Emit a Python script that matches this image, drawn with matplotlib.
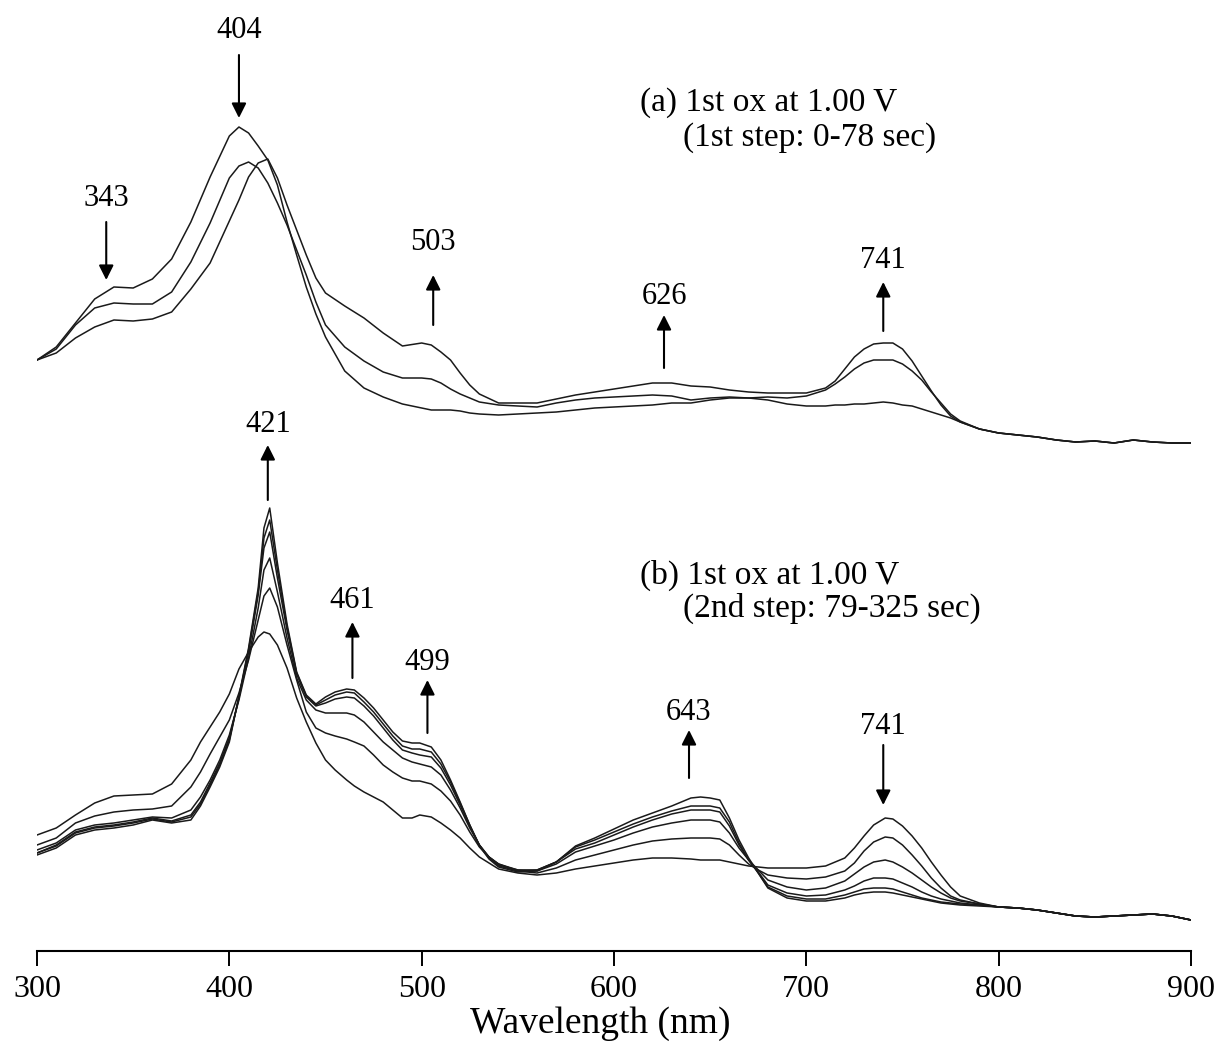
import numpy as np
import matplotlib
matplotlib.use("Agg")
import matplotlib.pyplot as plt

# ---------------------------------------------------------------------------
# (a) 1st oxidation at 1.00 V, 1st step (0-78 s): absorbance in mAU,
#     relative to the 900 nm baseline
# ---------------------------------------------------------------------------
wl_a = [300, 310, 320, 330, 340, 350, 360, 370, 380, 390,
        400, 405, 410, 415, 420, 425, 430, 435, 440, 445,
        450, 460, 470, 480, 490, 500, 505, 510, 515, 520,
        525, 530, 540, 550, 560, 570, 580, 590, 600, 610,
        620, 630, 640, 650, 660, 670, 680, 690, 700, 710,
        715, 720, 725, 730, 735, 740, 745, 750, 755, 760,
        765, 770, 775, 780, 790, 800, 810, 820, 830, 840,
        850, 860, 870, 880, 890, 900]

spec_a1 = [83, 96, 120, 144, 156, 155, 164, 184, 221, 266,
           307, 316, 310, 297, 283, 258, 221, 188, 156, 129,
           106, 72, 55, 46, 39, 35, 33, 33, 33, 32,
           30, 29, 28, 29, 30, 31, 33, 35, 36, 37,
           38, 40, 40, 43, 45, 45, 43, 39, 37, 37,
           38, 38, 39, 39, 40, 41, 40, 38, 37, 34,
           31, 28, 25, 21, 14, 10, 8, 6, 3, 1,
           2, 0, 3, 1, 0, 0]

spec_a2 = [83, 94, 118, 135, 140, 139, 139, 151, 181, 220,
           265, 277, 281, 275, 260, 240, 218, 193, 168, 141,
           118, 96, 82, 71, 65, 65, 64, 60, 54, 49,
           45, 41, 38, 37, 36, 40, 43, 45, 46, 47,
           48, 47, 43, 45, 46, 45, 46, 45, 47, 53,
           59, 66, 74, 80, 83, 83, 83, 79, 72, 63,
           51, 40, 29, 22, 14, 10, 8, 6, 3, 1,
           2, 0, 3, 1, 0, 0]

spec_a3 = [83, 90, 105, 116, 123, 122, 124, 131, 154, 180,
           222, 243, 266, 280, 284, 265, 238, 213, 188, 165,
           150, 137, 125, 110, 97, 100, 98, 91, 83, 70,
           58, 49, 40, 40, 40, 44, 48, 51, 54, 57,
           60, 60, 57, 56, 53, 51, 50, 50, 50, 55,
           62, 74, 86, 94, 99, 100, 100, 94, 82, 67,
           52, 38, 27, 21, 14, 10, 8, 6, 3, 1,
           2, 0, 3, 1, 0, 0]

# ---------------------------------------------------------------------------
# (b) 1st oxidation at 1.00 V, 2nd step (79-325 s): absorbance in mAU
# ---------------------------------------------------------------------------
wl_b = [300, 310, 320, 330, 340, 350, 360, 370, 380, 385,
        390, 395, 400, 405, 410, 415, 418, 421, 425, 430,
        435, 440, 445, 450, 455, 461, 465, 470, 475, 480,
        485, 490, 495, 499, 505, 510, 515, 520, 525, 530,
        535, 540, 550, 560, 570, 580, 590, 600, 610, 620,
        630, 640, 645, 650, 655, 660, 665, 670, 675, 680,
        690, 700, 710, 720, 725, 730, 735, 741, 745, 750,
        755, 760, 765, 770, 775, 780, 790, 800, 810, 820,
        830, 840, 850, 860, 870, 880, 890, 900]

spec_b1 = [85, 92, 105, 117, 124, 125, 126, 136, 160, 178,
           193, 208, 226, 251, 268, 283, 288, 286, 275, 252,
           222, 198, 177, 160, 150, 140, 134, 128, 123, 118,
           110, 102, 102, 105, 103, 97, 90, 82, 72, 63,
           57, 51, 47, 45, 47, 51, 54, 57, 60, 62,
           62, 61, 60, 60, 60, 58, 56, 54, 53, 52,
           52, 52, 54, 62, 72, 84, 95, 102, 101, 94,
           84, 72, 58, 45, 33, 24, 17, 13, 12, 10,
           7, 4, 3, 4, 5, 6, 4, 0]

spec_b2 = [75, 82, 97, 104, 108, 110, 111, 114, 133, 148,
           166, 183, 200, 227, 260, 300, 324, 332, 313, 275,
           240, 208, 192, 187, 184, 181, 178, 174, 165, 155,
           148, 142, 139, 139, 136, 129, 119, 105, 88, 73,
           63, 56, 49, 47, 52, 60, 65, 70, 75, 79,
           81, 82, 82, 82, 81, 75, 65, 56, 50, 45,
           42, 41, 43, 49, 57, 69, 78, 83, 82, 75,
           65, 54, 42, 32, 24, 20, 16, 13, 12, 10,
           7, 4, 3, 4, 5, 6, 4, 0]

spec_b3 = [70, 77, 90, 95, 97, 100, 103, 102, 110, 123,
           140, 160, 185, 220, 262, 312, 350, 362, 328, 282,
           242, 220, 210, 207, 207, 207, 205, 198, 188, 178,
           170, 162, 158, 156, 153, 145, 130, 112, 92, 75,
           63, 56, 50, 49, 56, 68, 74, 80, 87, 93,
           97, 100, 100, 100, 98, 87, 72, 60, 50, 40,
           33, 30, 32, 39, 46, 53, 58, 60, 58, 53,
           47, 40, 33, 27, 22, 19, 16, 13, 12, 10,
           7, 4, 3, 4, 5, 6, 4, 0]

spec_b4 = [67, 75, 88, 93, 95, 98, 102, 99, 105, 118,
           137, 157, 182, 222, 268, 325, 372, 388, 342, 290,
           246, 223, 214, 217, 221, 223, 222, 214, 204, 192,
           180, 170, 167, 165, 163, 152, 135, 115, 94, 75,
           63, 55, 50, 50, 58, 71, 77, 85, 93, 100,
           106, 110, 110, 110, 108, 94, 75, 60, 48, 35,
           27, 24, 25, 30, 34, 39, 42, 42, 41, 37,
           33, 28, 24, 21, 19, 17, 15, 13, 12, 10,
           7, 4, 3, 4, 5, 6, 4, 0]

spec_b5 = [67, 74, 87, 92, 94, 97, 101, 98, 103, 116,
           135, 155, 180, 223, 270, 328, 382, 400, 350, 293,
           247, 224, 215, 220, 225, 228, 227, 218, 208, 196,
           184, 174, 171, 171, 168, 156, 138, 117, 95, 75,
           62, 54, 49, 50, 58, 73, 80, 88, 96, 103,
           109, 114, 114, 114, 112, 98, 77, 60, 47, 33,
           24, 21, 21, 25, 28, 31, 32, 32, 31, 28,
           25, 22, 20, 18, 17, 16, 15, 13, 12, 10,
           7, 4, 3, 4, 5, 6, 4, 0]

spec_b6 = [65, 72, 85, 90, 92, 95, 100, 97, 100, 114,
           133, 153, 178, 224, 272, 332, 392, 412, 357, 296,
           248, 225, 216, 223, 228, 231, 230, 222, 212, 200,
           188, 179, 177, 177, 173, 160, 140, 118, 95, 74,
           61, 53, 48, 49, 58, 74, 82, 91, 100, 107,
           114, 122, 123, 122, 120, 102, 80, 62, 47, 32,
           22, 19, 19, 22, 25, 27, 28, 28, 27, 25,
           23, 21, 19, 17, 16, 15, 14, 13, 12, 10,
           7, 4, 3, 4, 5, 6, 4, 0]

# vertical offset of the (a) set above the (b) set
OFFSET_A = 0.477

# band labels: text, x (nm), label y, arrow tail y, arrow head y
bands = [
    ("343", 336, 0.722, 0.698, 0.640),
    ("404", 405, 0.890, 0.865, 0.802),
    ("503", 506, 0.678, 0.595, 0.645),
    ("626", 626, 0.624, 0.552, 0.605),
    ("741", 740, 0.659, 0.589, 0.638),
    ("421", 420, 0.495, 0.420, 0.475),
    ("461", 464, 0.320, 0.242, 0.298),
    ("499", 503, 0.258, 0.187, 0.240),
    ("643", 639, 0.208, 0.142, 0.190),
    ("741", 740, 0.193, 0.175, 0.115),
]

SERIF = ["Liberation Serif", "DejaVu Serif"]
LINE = "#1a1a1a"

fig = plt.figure(figsize=(12.21, 10.57), dpi=100)
ax = fig.add_axes([37 / 1221, 106 / 1057, 1154 / 1221, 951 / 1057])

for spec in (spec_a1, spec_a2, spec_a3):
    ax.plot(wl_a, np.asarray(spec) / 1000 + OFFSET_A, color=LINE, lw=1.1)
for spec in (spec_b1, spec_b2, spec_b3, spec_b4, spec_b5, spec_b6):
    ax.plot(wl_b, np.asarray(spec) / 1000, color=LINE, lw=1.1)

for label, x, ty, y0, y1 in bands:
    ax.text(x, ty, label, ha="center", va="center", fontsize=22, family=SERIF)
    ax.annotate("", xy=(x, y1), xytext=(x, y0),
                arrowprops=dict(arrowstyle="-|>", mutation_scale=22, lw=1.5,
                                color="black", shrinkA=0, shrinkB=0))

ax.text(613.5, 0.817, "(a) 1st ox at 1.00 V", ha="left", va="center",
        fontsize=24, family=SERIF)
ax.text(636, 0.782, "(1st step: 0-78 sec)", ha="left", va="center",
        fontsize=24, family=SERIF)
ax.text(613.5, 0.345, "(b) 1st ox at 1.00 V", ha="left", va="center",
        fontsize=24, family=SERIF)
ax.text(636, 0.312, "(2nd step: 79-325 sec)", ha="left", va="center",
        fontsize=24, family=SERIF)

ax.set_xlim(300, 900)
ax.set_ylim(-0.031, 0.920)
for side in ("left", "right", "top"):
    ax.spines[side].set_visible(False)
ax.spines["bottom"].set_linewidth(1.5)
ax.set_yticks([])
ax.set_xticks(range(300, 901, 100))
ax.tick_params(axis="x", direction="out", length=11, width=1.4, pad=6,
               labelsize=23)
for lab in ax.get_xticklabels():
    lab.set_family(SERIF)
ax.set_xlabel("Wavelength (nm)", fontsize=27, family=SERIF)
ax.xaxis.set_label_coords(0.488, -0.058)

fig.savefig("out.png", dpi=100)
